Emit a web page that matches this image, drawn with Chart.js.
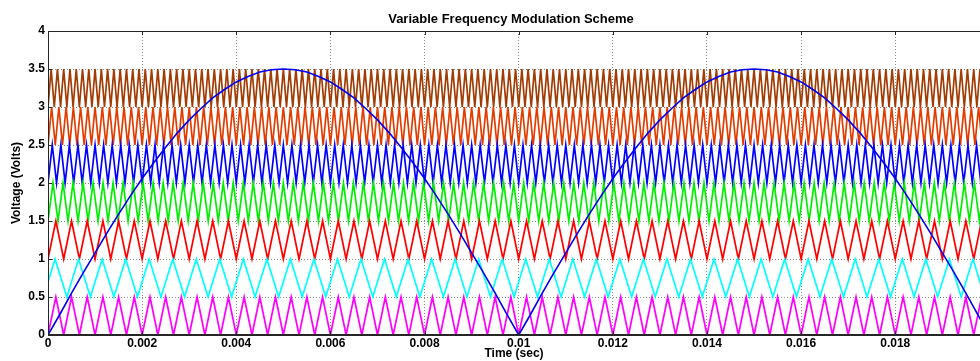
<!DOCTYPE html>
<html>
<head>
<meta charset="utf-8">
<script src="https://cdn.jsdelivr.net/npm/chart.js@4"></script>
<style>
  html, body { margin: 0; padding: 0; background: #fff; }
  #wrap { width: 980px; height: 361px; position: relative; }
</style>
</head>
<body>
<div id="wrap"><canvas id="vfChart"></canvas></div>
<script>
const chartTitle = 'Variable Frequency Modulation Scheme';
const xLabel = 'Time (sec)';
const yLabel = 'Voltage (Volts)';

const xTicks = [0, 0.002, 0.004, 0.006, 0.008, 0.01, 0.012, 0.014, 0.016, 0.018];
const yTicks = [0, 0.5, 1, 1.5, 2, 2.5, 3, 3.5, 4];

// carriers: one triangle band each, cycles counted over 0..0.02 s
const carrierLow = [0, 0.5, 1, 1.5, 2, 2.5, 3];
const carrierHigh = [0.5, 1, 1.5, 2, 2.5, 3, 3.5];
const carrierCycles = [60, 40, 60, 94, 110, 130, 150];
const carrierPhase = [0, 0.2, 0, 0, 0, 0, 0];
const carrierColors = ['#ff00ff', '#00ffff', '#ff0000', '#00ee00', '#0000ff', '#e23c00', '#a23c05'];

// reference (rectified sine), sampled every 0.25 ms
const sineStep = 0.00025;
const sineValues = [
  0, 0.27, 0.55, 0.82, 1.08, 1.34, 1.59, 1.83, 2.06, 2.27, 2.47, 2.66, 2.83, 2.98, 3.12, 3.23, 3.33, 3.40, 3.46, 3.49, 3.50,
  3.49, 3.46, 3.40, 3.33, 3.23, 3.12, 2.98, 2.83, 2.66, 2.47, 2.27, 2.06, 1.83, 1.59, 1.34, 1.08, 0.82, 0.55, 0.27, 0,
  0.27, 0.55, 0.82, 1.08, 1.34, 1.59, 1.83, 2.06, 2.27, 2.47, 2.66, 2.83, 2.98, 3.12, 3.23, 3.33, 3.40, 3.46, 3.49, 3.50,
  3.49, 3.46, 3.40, 3.33, 3.23, 3.12, 2.98, 2.83, 2.66, 2.47, 2.27, 2.06, 1.83, 1.59, 1.34, 1.08, 0.82, 0.55, 0.27, 0
];

const tEnd = 0.02;
const xMax = 0.0198;

const carrierPoints = (i) => {
  var period = tEnd / carrierCycles[i];
  var t0 = -carrierPhase[i] * period;
  var pts = [];
  for (var k = 0; t0 + k * period / 2 <= tEnd + period; k++) {
    pts.push({ x: t0 + k * period / 2, y: k % 2 === 0 ? carrierLow[i] : carrierHigh[i] });
  }
  return pts;
};

const datasets = [{
  label: 'reference',
  data: sineValues.map((v, k) => ({ x: k * sineStep, y: v })),
  borderColor: '#0000ee',
  borderWidth: 1.6,
  pointRadius: 0,
  tension: 0
}];
carrierLow.forEach((low, i) => {
  datasets.push({
    label: 'carrier ' + (i + 1),
    data: carrierPoints(i),
    borderColor: carrierColors[i],
    borderWidth: 1.7,
    pointRadius: 0,
    tension: 0
  });
});

const axisFont = { family: "'Liberation Sans', Arial, sans-serif", size: 12, weight: 'bold' };

const framePlugin = {
  id: 'frame',
  afterDatasetsDraw(chart) {
    const { ctx, chartArea: a, scales } = chart;
    ctx.save();
    ctx.strokeStyle = '#262626';
    ctx.lineWidth = 1;
    ctx.beginPath();
    ctx.moveTo(a.left, a.top + 0.5); ctx.lineTo(a.right, a.top + 0.5);
    ctx.moveTo(a.left + 0.5, a.top); ctx.lineTo(a.left + 0.5, a.bottom);
    ctx.moveTo(a.left, a.bottom - 0.5); ctx.lineTo(a.right, a.bottom - 0.5);
    xTicks.forEach(v => {
      var px = Math.round(scales.x.getPixelForValue(v)) + 0.5;
      ctx.moveTo(px, a.top); ctx.lineTo(px, a.top + 4);
      ctx.moveTo(px, a.bottom); ctx.lineTo(px, a.bottom - 4);
    });
    yTicks.forEach(v => {
      var py = Math.round(scales.y.getPixelForValue(v)) + 0.5;
      ctx.moveTo(a.left, py); ctx.lineTo(a.left + 4, py);
    });
    ctx.stroke();
    ctx.fillStyle = '#000';
    ctx.font = "bold 13px 'Liberation Sans', Arial, sans-serif";
    ctx.textAlign = 'center';
    ctx.textBaseline = 'middle';
    ctx.fillText(chartTitle, 511, 19);
    ctx.restore();
  }
};

const config = {
  type: 'line',
  data: { datasets: datasets },
  options: {
    responsive: true,
    maintainAspectRatio: false,
    animation: false,
    layout: { padding: { top: 31, right: 0, left: 0, bottom: 0 } },
    plugins: { legend: { display: false }, tooltip: { enabled: false } },
    scales: {
      x: {
        type: 'linear',
        min: 0,
        max: xMax,
        afterBuildTicks: s => { s.ticks = xTicks.map(v => ({ value: v })); },
        afterFit: s => { s.height = 26; },
        ticks: { callback: v => String(v), font: axisFont, color: '#000', padding: 1, maxRotation: 0, autoSkip: false },
        grid: { color: '#8a8a8a', lineWidth: 1, drawTicks: false },
        border: { color: '#262626', dash: [1, 2] },
        title: { display: true, text: xLabel, font: axisFont, color: '#000', padding: 0 }
      },
      y: {
        min: 0,
        max: 4,
        afterBuildTicks: s => { s.ticks = yTicks.map(v => ({ value: v })); },
        afterFit: s => { s.width = 48; },
        ticks: { callback: v => String(v), font: axisFont, color: '#000', padding: 3 },
        grid: { color: '#8a8a8a', lineWidth: 1, drawTicks: false },
        border: { color: '#262626', dash: [1, 2] },
        title: { display: true, text: yLabel, font: axisFont, color: '#000', padding: { top: 9, bottom: 0 } }
      }
    }
  },
  plugins: [framePlugin]
};

const vfChart = new Chart(document.getElementById('vfChart'), config);
</script>
</body>
</html>
